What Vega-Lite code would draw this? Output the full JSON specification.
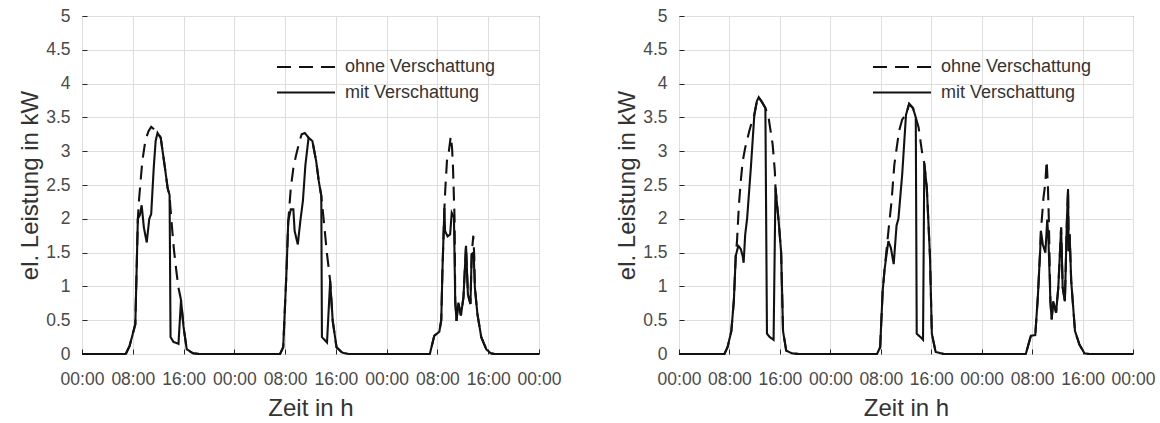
{
  "$schema": "https://vega.github.io/schema/vega-lite/v6.json",
  "padding": {"left": 18, "top": 6, "right": 0, "bottom": 0},
  "bounds": "flush",
  "spacing": 140,
  "config": {
    "font": "Liberation Sans",
    "view": {"stroke": "#262626", "strokeWidth": 1},
    "axis": {
      "grid": true, "gridColor": "#dedede", "gridWidth": 1,
      "domain": false, "tickSize": -5, "tickColor": "#262626", "tickWidth": 1,
      "labelFont": "Liberation Sans", "labelFontSize": 17.5, "labelColor": "#4a4a4a",
      "labelOverlap": false, "labelFlush": false, "labelBound": false,
      "titleFont": "Liberation Sans", "titleFontSize": 24, "titleFontWeight": "normal", "titleColor": "#333333"
    },
    "legend": {
      "labelFont": "Liberation Sans", "labelFontSize": 18, "labelColor": "#333333",
      "padding": 0, "rowPadding": 5.5, "symbolOffset": 0, "labelOffset": 28
    }
  },
  "datasets": {
    "L": [
      {"s":"mit Verschattung","t":0,"v":0},{"s":"mit Verschattung","t":6.9,"v":0},{"s":"mit Verschattung","t":7.5,"v":0.12},{"s":"mit Verschattung","t":8.4,"v":0.44},{"s":"mit Verschattung","t":8.8,"v":2.0},{"s":"mit Verschattung","t":9.1,"v":2.05},{"s":"mit Verschattung","t":9.4,"v":2.2},{"s":"mit Verschattung","t":9.75,"v":1.87},{"s":"mit Verschattung","t":10.2,"v":1.65},{"s":"mit Verschattung","t":10.6,"v":2.0},{"s":"mit Verschattung","t":10.9,"v":2.07},{"s":"mit Verschattung","t":11.3,"v":2.75},{"s":"mit Verschattung","t":11.6,"v":3.15},{"s":"mit Verschattung","t":11.9,"v":3.27},{"s":"mit Verschattung","t":12.4,"v":3.2},{"s":"mit Verschattung","t":13.0,"v":2.8},{"s":"mit Verschattung","t":13.5,"v":2.45},{"s":"mit Verschattung","t":13.8,"v":2.35},{"s":"mit Verschattung","t":13.95,"v":0.25},{"s":"mit Verschattung","t":14.4,"v":0.18},{"s":"mit Verschattung","t":15.2,"v":0.15},{"s":"mit Verschattung","t":15.6,"v":0.8},{"s":"mit Verschattung","t":16.0,"v":0.4},{"s":"mit Verschattung","t":16.5,"v":0.07},{"s":"mit Verschattung","t":17.5,"v":0.01},{"s":"mit Verschattung","t":18.5,"v":0},
      {"s":"mit Verschattung","t":31.2,"v":0},{"s":"mit Verschattung","t":31.7,"v":0.1},{"s":"mit Verschattung","t":32.2,"v":1.18},{"s":"mit Verschattung","t":32.5,"v":1.97},{"s":"mit Verschattung","t":32.9,"v":2.14},{"s":"mit Verschattung","t":33.3,"v":2.14},{"s":"mit Verschattung","t":33.5,"v":1.82},{"s":"mit Verschattung","t":34.0,"v":1.62},{"s":"mit Verschattung","t":34.4,"v":1.97},{"s":"mit Verschattung","t":34.8,"v":2.26},{"s":"mit Verschattung","t":35.2,"v":2.8},{"s":"mit Verschattung","t":35.7,"v":3.2},{"s":"mit Verschattung","t":36.3,"v":3.15},{"s":"mit Verschattung","t":36.9,"v":2.85},{"s":"mit Verschattung","t":37.3,"v":2.56},{"s":"mit Verschattung","t":37.7,"v":2.34},{"s":"mit Verschattung","t":37.8,"v":0.25},{"s":"mit Verschattung","t":38.6,"v":0.17},{"s":"mit Verschattung","t":39.1,"v":1.08},{"s":"mit Verschattung","t":39.5,"v":0.49},{"s":"mit Verschattung","t":40.1,"v":0.1},{"s":"mit Verschattung","t":41.0,"v":0.02},{"s":"mit Verschattung","t":42,"v":0},
      {"s":"mit Verschattung","t":54.8,"v":0},{"s":"mit Verschattung","t":55.5,"v":0.27},{"s":"mit Verschattung","t":56.3,"v":0.33},{"s":"mit Verschattung","t":56.6,"v":0.5},{"s":"mit Verschattung","t":56.8,"v":1.28},{"s":"mit Verschattung","t":57.1,"v":2.16},{"s":"mit Verschattung","t":57.2,"v":1.82},{"s":"mit Verschattung","t":57.6,"v":1.74},{"s":"mit Verschattung","t":58.0,"v":1.77},{"s":"mit Verschattung","t":58.25,"v":2.09},{"s":"mit Verschattung","t":58.6,"v":2.02},{"s":"mit Verschattung","t":58.8,"v":0.79},{"s":"mit Verschattung","t":59.0,"v":0.49},{"s":"mit Verschattung","t":59.3,"v":0.76},{"s":"mit Verschattung","t":59.7,"v":0.57},{"s":"mit Verschattung","t":60.1,"v":0.84},{"s":"mit Verschattung","t":60.5,"v":1.6},{"s":"mit Verschattung","t":60.8,"v":0.88},{"s":"mit Verschattung","t":61.2,"v":0.74},{"s":"mit Verschattung","t":61.4,"v":1.48},{"s":"mit Verschattung","t":61.7,"v":1.5},{"s":"mit Verschattung","t":61.9,"v":0.98},{"s":"mit Verschattung","t":62.3,"v":0.59},{"s":"mit Verschattung","t":62.9,"v":0.25},{"s":"mit Verschattung","t":63.7,"v":0.07},{"s":"mit Verschattung","t":64.4,"v":0.01},{"s":"mit Verschattung","t":65,"v":0},{"s":"mit Verschattung","t":72,"v":0},
      {"s":"ohne Verschattung","t":0,"v":0},{"s":"ohne Verschattung","t":6.9,"v":0},{"s":"ohne Verschattung","t":7.5,"v":0.12},{"s":"ohne Verschattung","t":8.4,"v":0.44},{"s":"ohne Verschattung","t":8.8,"v":2.0},{"s":"ohne Verschattung","t":9.0,"v":2.3},{"s":"ohne Verschattung","t":9.5,"v":2.85},{"s":"ohne Verschattung","t":10.0,"v":3.17},{"s":"ohne Verschattung","t":10.5,"v":3.3},{"s":"ohne Verschattung","t":10.9,"v":3.36},{"s":"ohne Verschattung","t":11.4,"v":3.32},{"s":"ohne Verschattung","t":11.9,"v":3.27},{"s":"ohne Verschattung","t":12.4,"v":3.2},{"s":"ohne Verschattung","t":13.0,"v":2.8},{"s":"ohne Verschattung","t":13.5,"v":2.45},{"s":"ohne Verschattung","t":13.8,"v":2.35},{"s":"ohne Verschattung","t":13.9,"v":2.2},{"s":"ohne Verschattung","t":14.2,"v":1.85},{"s":"ohne Verschattung","t":14.5,"v":1.53},{"s":"ohne Verschattung","t":14.9,"v":1.2},{"s":"ohne Verschattung","t":15.2,"v":0.98},{"s":"ohne Verschattung","t":15.6,"v":0.8},{"s":"ohne Verschattung","t":16.0,"v":0.4},{"s":"ohne Verschattung","t":16.5,"v":0.07},{"s":"ohne Verschattung","t":17.5,"v":0.01},{"s":"ohne Verschattung","t":18.5,"v":0},
      {"s":"ohne Verschattung","t":31.2,"v":0},{"s":"ohne Verschattung","t":31.7,"v":0.1},{"s":"ohne Verschattung","t":32.2,"v":1.18},{"s":"ohne Verschattung","t":32.5,"v":1.97},{"s":"ohne Verschattung","t":32.9,"v":2.46},{"s":"ohne Verschattung","t":33.3,"v":2.75},{"s":"ohne Verschattung","t":33.7,"v":2.93},{"s":"ohne Verschattung","t":34.2,"v":3.12},{"s":"ohne Verschattung","t":34.6,"v":3.25},{"s":"ohne Verschattung","t":35.1,"v":3.27},{"s":"ohne Verschattung","t":35.7,"v":3.2},{"s":"ohne Verschattung","t":36.3,"v":3.15},{"s":"ohne Verschattung","t":36.9,"v":2.85},{"s":"ohne Verschattung","t":37.3,"v":2.56},{"s":"ohne Verschattung","t":37.7,"v":2.34},{"s":"ohne Verschattung","t":37.9,"v":2.15},{"s":"ohne Verschattung","t":38.2,"v":1.87},{"s":"ohne Verschattung","t":38.6,"v":1.48},{"s":"ohne Verschattung","t":39.1,"v":1.08},{"s":"ohne Verschattung","t":39.5,"v":0.49},{"s":"ohne Verschattung","t":40.1,"v":0.1},{"s":"ohne Verschattung","t":41.0,"v":0.02},{"s":"ohne Verschattung","t":42,"v":0},
      {"s":"ohne Verschattung","t":54.8,"v":0},{"s":"ohne Verschattung","t":55.5,"v":0.27},{"s":"ohne Verschattung","t":56.3,"v":0.33},{"s":"ohne Verschattung","t":56.6,"v":0.5},{"s":"ohne Verschattung","t":56.8,"v":1.28},{"s":"ohne Verschattung","t":57.1,"v":2.16},{"s":"ohne Verschattung","t":57.25,"v":2.46},{"s":"ohne Verschattung","t":57.5,"v":2.86},{"s":"ohne Verschattung","t":57.8,"v":3.0},{"s":"ohne Verschattung","t":58.1,"v":3.22},{"s":"ohne Verschattung","t":58.3,"v":3.05},{"s":"ohne Verschattung","t":58.45,"v":2.76},{"s":"ohne Verschattung","t":58.6,"v":2.3},{"s":"ohne Verschattung","t":58.7,"v":2.0},{"s":"ohne Verschattung","t":58.8,"v":0.79},{"s":"ohne Verschattung","t":59.0,"v":0.49},{"s":"ohne Verschattung","t":59.3,"v":0.76},{"s":"ohne Verschattung","t":59.7,"v":0.57},{"s":"ohne Verschattung","t":60.1,"v":0.84},{"s":"ohne Verschattung","t":60.5,"v":1.6},{"s":"ohne Verschattung","t":60.8,"v":0.88},{"s":"ohne Verschattung","t":61.2,"v":0.74},{"s":"ohne Verschattung","t":61.4,"v":1.48},{"s":"ohne Verschattung","t":61.65,"v":1.75},{"s":"ohne Verschattung","t":61.8,"v":1.45},{"s":"ohne Verschattung","t":61.9,"v":0.98},{"s":"ohne Verschattung","t":62.3,"v":0.59},{"s":"ohne Verschattung","t":62.9,"v":0.25},{"s":"ohne Verschattung","t":63.7,"v":0.07},{"s":"ohne Verschattung","t":64.4,"v":0.01},{"s":"ohne Verschattung","t":65,"v":0},{"s":"ohne Verschattung","t":72,"v":0}
    ],
    "R": [
      {"s":"mit Verschattung","t":0,"v":0},{"s":"mit Verschattung","t":7.2,"v":0},{"s":"mit Verschattung","t":7.7,"v":0.1},{"s":"mit Verschattung","t":8.3,"v":0.34},{"s":"mit Verschattung","t":8.7,"v":0.79},{"s":"mit Verschattung","t":9.0,"v":1.45},{"s":"mit Verschattung","t":9.4,"v":1.6},{"s":"mit Verschattung","t":9.6,"v":1.58},{"s":"mit Verschattung","t":9.8,"v":1.55},{"s":"mit Verschattung","t":10.1,"v":1.45},{"s":"mit Verschattung","t":10.25,"v":1.35},{"s":"mit Verschattung","t":10.5,"v":1.77},{"s":"mit Verschattung","t":10.8,"v":2.0},{"s":"mit Verschattung","t":11.4,"v":2.76},{"s":"mit Verschattung","t":11.95,"v":3.54},{"s":"mit Verschattung","t":12.35,"v":3.74},{"s":"mit Verschattung","t":12.65,"v":3.8},{"s":"mit Verschattung","t":13.2,"v":3.72},{"s":"mit Verschattung","t":13.7,"v":3.64},{"s":"mit Verschattung","t":13.95,"v":0.3},{"s":"mit Verschattung","t":14.4,"v":0.25},{"s":"mit Verschattung","t":15.0,"v":0.21},{"s":"mit Verschattung","t":15.3,"v":2.46},{"s":"mit Verschattung","t":15.8,"v":1.97},{"s":"mit Verschattung","t":16.2,"v":1.5},{"s":"mit Verschattung","t":16.5,"v":0.34},{"s":"mit Verschattung","t":17.0,"v":0.05},{"s":"mit Verschattung","t":17.9,"v":0.01},{"s":"mit Verschattung","t":19,"v":0},
      {"s":"mit Verschattung","t":31.4,"v":0},{"s":"mit Verschattung","t":31.9,"v":0.1},{"s":"mit Verschattung","t":32.3,"v":0.93},{"s":"mit Verschattung","t":32.6,"v":1.25},{"s":"mit Verschattung","t":33.2,"v":1.67},{"s":"mit Verschattung","t":33.6,"v":1.57},{"s":"mit Verschattung","t":34.05,"v":1.33},{"s":"mit Verschattung","t":34.5,"v":1.9},{"s":"mit Verschattung","t":34.8,"v":2.0},{"s":"mit Verschattung","t":35.4,"v":2.66},{"s":"mit Verschattung","t":36.0,"v":3.54},{"s":"mit Verschattung","t":36.5,"v":3.7},{"s":"mit Verschattung","t":37.1,"v":3.64},{"s":"mit Verschattung","t":37.55,"v":3.5},{"s":"mit Verschattung","t":37.7,"v":0.3},{"s":"mit Verschattung","t":38.3,"v":0.25},{"s":"mit Verschattung","t":38.7,"v":0.21},{"s":"mit Verschattung","t":38.9,"v":2.82},{"s":"mit Verschattung","t":39.3,"v":2.46},{"s":"mit Verschattung","t":39.8,"v":1.45},{"s":"mit Verschattung","t":40.1,"v":0.3},{"s":"mit Verschattung","t":40.7,"v":0.03},{"s":"mit Verschattung","t":42,"v":0},
      {"s":"mit Verschattung","t":55.0,"v":0},{"s":"mit Verschattung","t":55.8,"v":0.27},{"s":"mit Verschattung","t":56.5,"v":0.28},{"s":"mit Verschattung","t":56.9,"v":0.83},{"s":"mit Verschattung","t":57.3,"v":1.57},{"s":"mit Verschattung","t":57.4,"v":1.82},{"s":"mit Verschattung","t":57.7,"v":1.62},{"s":"mit Verschattung","t":58.1,"v":1.5},{"s":"mit Verschattung","t":58.4,"v":1.99},{"s":"mit Verschattung","t":58.6,"v":1.67},{"s":"mit Verschattung","t":58.9,"v":0.78},{"s":"mit Verschattung","t":59.1,"v":0.51},{"s":"mit Verschattung","t":59.35,"v":0.78},{"s":"mit Verschattung","t":59.8,"v":0.61},{"s":"mit Verschattung","t":60.15,"v":0.98},{"s":"mit Verschattung","t":60.6,"v":1.87},{"s":"mit Verschattung","t":60.85,"v":0.98},{"s":"mit Verschattung","t":61.2,"v":0.78},{"s":"mit Verschattung","t":61.5,"v":1.92},{"s":"mit Verschattung","t":61.7,"v":2.44},{"s":"mit Verschattung","t":61.8,"v":1.52},{"s":"mit Verschattung","t":61.95,"v":1.77},{"s":"mit Verschattung","t":62.2,"v":1.08},{"s":"mit Verschattung","t":62.8,"v":0.34},{"s":"mit Verschattung","t":63.5,"v":0.14},{"s":"mit Verschattung","t":64.3,"v":0.01},{"s":"mit Verschattung","t":65,"v":0},{"s":"mit Verschattung","t":72,"v":0},
      {"s":"ohne Verschattung","t":0,"v":0},{"s":"ohne Verschattung","t":7.2,"v":0},{"s":"ohne Verschattung","t":7.7,"v":0.1},{"s":"ohne Verschattung","t":8.3,"v":0.34},{"s":"ohne Verschattung","t":8.7,"v":0.79},{"s":"ohne Verschattung","t":9.0,"v":1.45},{"s":"ohne Verschattung","t":9.2,"v":1.67},{"s":"ohne Verschattung","t":9.5,"v":2.2},{"s":"ohne Verschattung","t":9.8,"v":2.56},{"s":"ohne Verschattung","t":10.1,"v":2.85},{"s":"ohne Verschattung","t":10.5,"v":3.05},{"s":"ohne Verschattung","t":11.15,"v":3.3},{"s":"ohne Verschattung","t":11.6,"v":3.45},{"s":"ohne Verschattung","t":11.95,"v":3.54},{"s":"ohne Verschattung","t":12.35,"v":3.74},{"s":"ohne Verschattung","t":12.65,"v":3.8},{"s":"ohne Verschattung","t":13.2,"v":3.72},{"s":"ohne Verschattung","t":13.7,"v":3.64},{"s":"ohne Verschattung","t":14.2,"v":3.5},{"s":"ohne Verschattung","t":14.85,"v":3.1},{"s":"ohne Verschattung","t":15.2,"v":2.7},{"s":"ohne Verschattung","t":15.3,"v":2.46},{"s":"ohne Verschattung","t":15.8,"v":1.97},{"s":"ohne Verschattung","t":16.2,"v":1.5},{"s":"ohne Verschattung","t":16.5,"v":0.34},{"s":"ohne Verschattung","t":17.0,"v":0.05},{"s":"ohne Verschattung","t":17.9,"v":0.01},{"s":"ohne Verschattung","t":19,"v":0},
      {"s":"ohne Verschattung","t":31.4,"v":0},{"s":"ohne Verschattung","t":31.9,"v":0.1},{"s":"ohne Verschattung","t":32.3,"v":0.93},{"s":"ohne Verschattung","t":32.6,"v":1.25},{"s":"ohne Verschattung","t":33.0,"v":1.62},{"s":"ohne Verschattung","t":33.3,"v":1.9},{"s":"ohne Verschattung","t":33.7,"v":2.25},{"s":"ohne Verschattung","t":34.15,"v":2.8},{"s":"ohne Verschattung","t":34.9,"v":3.3},{"s":"ohne Verschattung","t":35.4,"v":3.47},{"s":"ohne Verschattung","t":36.0,"v":3.54},{"s":"ohne Verschattung","t":36.5,"v":3.7},{"s":"ohne Verschattung","t":37.1,"v":3.64},{"s":"ohne Verschattung","t":37.55,"v":3.5},{"s":"ohne Verschattung","t":38.0,"v":3.35},{"s":"ohne Verschattung","t":38.3,"v":3.15},{"s":"ohne Verschattung","t":38.6,"v":2.95},{"s":"ohne Verschattung","t":38.9,"v":2.82},{"s":"ohne Verschattung","t":39.3,"v":2.46},{"s":"ohne Verschattung","t":39.8,"v":1.45},{"s":"ohne Verschattung","t":40.1,"v":0.3},{"s":"ohne Verschattung","t":40.7,"v":0.03},{"s":"ohne Verschattung","t":42,"v":0},
      {"s":"ohne Verschattung","t":55.0,"v":0},{"s":"ohne Verschattung","t":55.8,"v":0.27},{"s":"ohne Verschattung","t":56.5,"v":0.28},{"s":"ohne Verschattung","t":56.9,"v":0.83},{"s":"ohne Verschattung","t":57.3,"v":1.57},{"s":"ohne Verschattung","t":57.4,"v":1.82},{"s":"ohne Verschattung","t":57.8,"v":2.31},{"s":"ohne Verschattung","t":58.1,"v":2.53},{"s":"ohne Verschattung","t":58.3,"v":2.86},{"s":"ohne Verschattung","t":58.5,"v":2.5},{"s":"ohne Verschattung","t":58.65,"v":2.0},{"s":"ohne Verschattung","t":58.9,"v":0.78},{"s":"ohne Verschattung","t":59.1,"v":0.51},{"s":"ohne Verschattung","t":59.35,"v":0.78},{"s":"ohne Verschattung","t":59.8,"v":0.61},{"s":"ohne Verschattung","t":60.15,"v":0.98},{"s":"ohne Verschattung","t":60.6,"v":1.87},{"s":"ohne Verschattung","t":60.85,"v":0.98},{"s":"ohne Verschattung","t":61.2,"v":0.78},{"s":"ohne Verschattung","t":61.5,"v":1.92},{"s":"ohne Verschattung","t":61.7,"v":2.44},{"s":"ohne Verschattung","t":61.8,"v":1.52},{"s":"ohne Verschattung","t":61.95,"v":1.77},{"s":"ohne Verschattung","t":62.2,"v":1.08},{"s":"ohne Verschattung","t":62.8,"v":0.34},{"s":"ohne Verschattung","t":63.5,"v":0.14},{"s":"ohne Verschattung","t":64.3,"v":0.01},{"s":"ohne Verschattung","t":65,"v":0},{"s":"ohne Verschattung","t":72,"v":0}
    ]
  },
  "hconcat": [
    {
      "width": 457, "height": 338,
      "data": {"name": "L"},
      "mark": {"type": "line", "color": "#111111", "strokeWidth": 2.1},
      "encoding": {
        "x": {"field": "t", "type": "quantitative", "scale": {"domain": [0, 72], "nice": false},
          "axis": {"values": [0,8,16,24,32,40,48,56,64,72], "labelExpr": "pad(toString(datum.value % 24), 2, '0', 'left') + ':00'", "title": "Zeit in h", "labelPadding": 21.5, "titlePadding": 8}},
        "y": {"field": "v", "type": "quantitative", "scale": {"domain": [0, 5], "nice": false},
          "axis": {"values": [0,0.5,1,1.5,2,2.5,3,3.5,4,4.5,5], "format": "~g", "title": "el. Leistung in kW", "labelPadding": 17, "titlePadding": 3}},
        "strokeDash": {"field": "s", "type": "nominal",
          "scale": {"domain": ["ohne Verschattung", "mit Verschattung"], "range": [[14, 8], [1, 0]]},
          "legend": {"orient": "none", "legendX": 213, "legendY": 40, "title": null, "symbolType": "M-3,0H3", "symbolSize": 374, "symbolStrokeWidth": 2, "symbolStrokeColor": "#111111"}}
      }
    },
    {
      "width": 454, "height": 338,
      "data": {"name": "R"},
      "mark": {"type": "line", "color": "#111111", "strokeWidth": 2.1},
      "encoding": {
        "x": {"field": "t", "type": "quantitative", "scale": {"domain": [0, 72], "nice": false},
          "axis": {"values": [0,8,16,24,32,40,48,56,64,72], "labelExpr": "pad(toString(datum.value % 24), 2, '0', 'left') + ':00'", "title": "Zeit in h", "labelPadding": 21.5, "titlePadding": 8}},
        "y": {"field": "v", "type": "quantitative", "scale": {"domain": [0, 5], "nice": false},
          "axis": {"values": [0,0.5,1,1.5,2,2.5,3,3.5,4,4.5,5], "format": "~g", "title": "el. Leistung in kW", "labelPadding": 17, "titlePadding": 3}},
        "strokeDash": {"field": "s", "type": "nominal",
          "scale": {"domain": ["ohne Verschattung", "mit Verschattung"], "range": [[14, 8], [1, 0]]},
          "legend": {"orient": "none", "legendX": 212, "legendY": 40, "title": null, "symbolType": "M-3,0H3", "symbolSize": 374, "symbolStrokeWidth": 2, "symbolStrokeColor": "#111111"}}
      }
    }
  ],
  "resolve": {"scale": {"strokeDash": "independent"}, "legend": {"strokeDash": "independent"}}
}
